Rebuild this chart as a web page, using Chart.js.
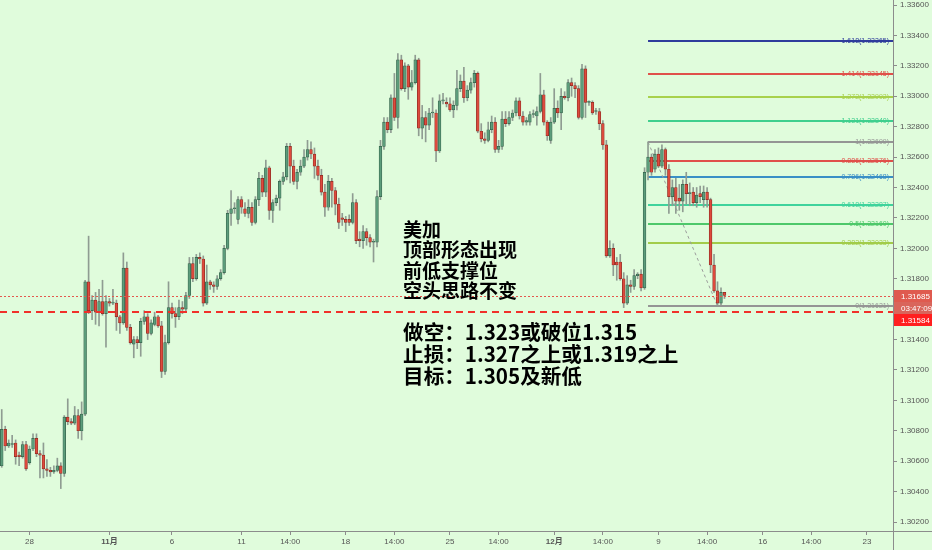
<!DOCTYPE html>
<html>
<head>
<meta charset="utf-8">
<script src="https://cdn.jsdelivr.net/npm/chart.js@4.4.1/dist/chart.umd.min.js"></script>
<style>
  html, body { margin: 0; padding: 0; background: #e0fcdc; }
  canvas { display: block; }
</style>
</head>
<body>
<canvas id="myChart" width="932" height="550"></canvas>
<script>
// 美加 4小时K线：开 / 高 / 低 / 收
var openP = [
  1.3057, 1.3081, 1.3070, 1.3071, 1.3072, 1.3064, 1.3063, 1.3071, 1.3059, 1.3068,
  1.3075, 1.3065, 1.3064, 1.3055, 1.3054, 1.3053, 1.3054, 1.3057, 1.3052, 1.3089,
  1.3086, 1.3085, 1.3090, 1.3080, 1.3091, 1.3178, 1.3159, 1.3166, 1.3158, 1.3165,
  1.3157, 1.3165, 1.3164, 1.3164, 1.3155, 1.3151, 1.3187, 1.3148, 1.3137, 1.3140,
  1.3138, 1.3152, 1.3155, 1.3144, 1.3150, 1.3155, 1.3149, 1.3119, 1.3138, 1.3161,
  1.3157, 1.3155, 1.3161, 1.3160, 1.3169, 1.3190, 1.3180, 1.3194, 1.3193, 1.3164,
  1.3178, 1.3176, 1.3175, 1.3180, 1.3184, 1.3200, 1.3223, 1.3226, 1.3219, 1.3232,
  1.3226, 1.3223, 1.3227, 1.3217, 1.3232, 1.3246, 1.3237, 1.3253, 1.3225, 1.3230,
  1.3233, 1.3244, 1.3247, 1.3267, 1.3254, 1.3244, 1.3250, 1.3254, 1.3260, 1.3265,
  1.3262, 1.3254, 1.3248, 1.3237, 1.3227, 1.3244, 1.3238, 1.3229, 1.3220, 1.3219,
  1.3219, 1.3217, 1.3230, 1.3206, 1.3205, 1.3211, 1.3207, 1.3204, 1.3204, 1.3234,
  1.3267, 1.3283, 1.3278, 1.3299, 1.3286, 1.3324, 1.3305, 1.3320, 1.3306, 1.3309,
  1.3324, 1.3279, 1.3286, 1.3281, 1.3289, 1.3289, 1.3264, 1.3297, 1.3296, 1.3295,
  1.3291, 1.3294, 1.3305, 1.3310, 1.3299, 1.3304, 1.3309, 1.3315, 1.3277, 1.3272,
  1.3271, 1.3278, 1.3283, 1.3265, 1.3267, 1.3285, 1.3282, 1.3286, 1.3289, 1.3297,
  1.3287, 1.3283, 1.3283, 1.3288, 1.3287, 1.3290, 1.3301, 1.3283, 1.3271, 1.3283,
  1.3292, 1.3289, 1.3300, 1.3299, 1.3309, 1.3307, 1.3305, 1.3286, 1.3318, 1.3296,
  1.3296, 1.3290, 1.3290, 1.3282, 1.3268, 1.3195, 1.3200, 1.3191, 1.3191, 1.3180,
  1.3164, 1.3176, 1.3175, 1.3182, 1.3183, 1.3174, 1.3250, 1.3260, 1.3252, 1.3262,
  1.3254, 1.3265, 1.3252, 1.3234, 1.3240, 1.3233, 1.3231, 1.3242, 1.3236, 1.3237,
  1.3230, 1.3236, 1.3232, 1.3237, 1.3232, 1.3189, 1.3172, 1.3164, 1.3171
];
var highP = [
  1.3094, 1.3083, 1.3074, 1.3077, 1.3074, 1.3066, 1.3073, 1.3073, 1.3070, 1.3078,
  1.3078, 1.3067, 1.3072, 1.3061, 1.3056, 1.3057, 1.3062, 1.3059, 1.3090, 1.3101,
  1.3088, 1.3096, 1.3094, 1.3099, 1.3179, 1.3208, 1.3169, 1.3171, 1.3173, 1.3179,
  1.3169, 1.3167, 1.3173, 1.3166, 1.3156, 1.3197, 1.3191, 1.3150, 1.3142, 1.3142,
  1.3154, 1.3159, 1.3157, 1.3153, 1.3158, 1.3156, 1.3152, 1.3143, 1.3178, 1.3164,
  1.3161, 1.3166, 1.3165, 1.3171, 1.3194, 1.3194, 1.3196, 1.3197, 1.3195, 1.3189,
  1.3179, 1.3178, 1.3182, 1.3186, 1.3202, 1.3225, 1.3238, 1.3230, 1.3234, 1.3234,
  1.3230, 1.3232, 1.3230, 1.3234, 1.3250, 1.3248, 1.3258, 1.3254, 1.3232, 1.3235,
  1.3245, 1.3250, 1.3269, 1.3269, 1.3258, 1.3252, 1.3258, 1.3265, 1.3271, 1.3270,
  1.3266, 1.3258, 1.3252, 1.3242, 1.3248, 1.3246, 1.3240, 1.3233, 1.3223, 1.3221,
  1.3222, 1.3236, 1.3232, 1.3211, 1.3215, 1.3213, 1.3209, 1.3206, 1.3238, 1.3271,
  1.3286, 1.3286, 1.3301, 1.3315, 1.3328, 1.3327, 1.3322, 1.3321, 1.3317, 1.3327,
  1.3325, 1.3294, 1.3290, 1.3292, 1.3299, 1.3291, 1.3301, 1.3302, 1.3299, 1.3299,
  1.3297, 1.3317, 1.3314, 1.3319, 1.3307, 1.3312, 1.3317, 1.3316, 1.3282, 1.3276,
  1.3283, 1.3287, 1.3286, 1.3271, 1.3290, 1.3290, 1.3290, 1.3291, 1.3299, 1.3299,
  1.3290, 1.3286, 1.3290, 1.3291, 1.3293, 1.3315, 1.3304, 1.3284, 1.3286, 1.3305,
  1.3297, 1.3305, 1.3303, 1.3311, 1.3312, 1.3309, 1.3307, 1.3321, 1.3320, 1.3297,
  1.3297, 1.3292, 1.3292, 1.3284, 1.3271, 1.3205, 1.3203, 1.3194, 1.3196, 1.3184,
  1.3182, 1.3179, 1.3186, 1.3184, 1.3186, 1.3253, 1.3270, 1.3262, 1.3265, 1.3266,
  1.3268, 1.3266, 1.3255, 1.3245, 1.3246, 1.3242, 1.3245, 1.3250, 1.3243, 1.3240,
  1.3240, 1.3241, 1.3241, 1.3240, 1.3233, 1.3196, 1.3178, 1.3174, 1.3171
];
var lowP = [
  1.3056, 1.3067, 1.3069, 1.3069, 1.3058, 1.3057, 1.3062, 1.3054, 1.3058, 1.3067,
  1.3063, 1.3049, 1.3049, 1.3050, 1.3050, 1.3052, 1.3053, 1.3042, 1.3050, 1.3084,
  1.3084, 1.3084, 1.3075, 1.3074, 1.3090, 1.3157, 1.3153, 1.3150, 1.3149, 1.3156,
  1.3135, 1.3162, 1.3163, 1.3146, 1.3144, 1.3150, 1.3146, 1.3137, 1.3128, 1.3134,
  1.3129, 1.3150, 1.3140, 1.3143, 1.3149, 1.3148, 1.3115, 1.3117, 1.3137, 1.3154,
  1.3148, 1.3153, 1.3157, 1.3159, 1.3167, 1.3178, 1.3179, 1.3190, 1.3162, 1.3163,
  1.3173, 1.3171, 1.3173, 1.3179, 1.3183, 1.3199, 1.3215, 1.3223, 1.3216, 1.3223,
  1.3221, 1.3220, 1.3215, 1.3216, 1.3228, 1.3234, 1.3234, 1.3219, 1.3217, 1.3228,
  1.3225, 1.3242, 1.3245, 1.3243, 1.3242, 1.3239, 1.3248, 1.3253, 1.3258, 1.3259,
  1.3246, 1.3245, 1.3235, 1.3221, 1.3225, 1.3227, 1.3222, 1.3213, 1.3215, 1.3211,
  1.3215, 1.3216, 1.3203, 1.3201, 1.3200, 1.3202, 1.3201, 1.3191, 1.3201, 1.3232,
  1.3265, 1.3276, 1.3276, 1.3284, 1.3279, 1.3304, 1.3303, 1.3298, 1.3304, 1.3308,
  1.3274, 1.3272, 1.3270, 1.3278, 1.3286, 1.3257, 1.3263, 1.3295, 1.3293, 1.3290,
  1.3286, 1.3291, 1.3303, 1.3296, 1.3297, 1.3302, 1.3306, 1.3276, 1.3270, 1.3269,
  1.3270, 1.3276, 1.3263, 1.3263, 1.3265, 1.3280, 1.3281, 1.3284, 1.3287, 1.3285,
  1.3281, 1.3281, 1.3281, 1.3286, 1.3281, 1.3289, 1.3281, 1.3271, 1.3269, 1.3282,
  1.3286, 1.3278, 1.3298, 1.3297, 1.3300, 1.3299, 1.3285, 1.3285, 1.3286, 1.3294,
  1.3288, 1.3288, 1.3278, 1.3265, 1.3194, 1.3194, 1.3182, 1.3179, 1.3179, 1.3161,
  1.3163, 1.3171, 1.3173, 1.3180, 1.3172, 1.3173, 1.3245, 1.3248, 1.3250, 1.3253,
  1.3253, 1.3248, 1.3223, 1.3228, 1.3223, 1.3225, 1.3224, 1.3229, 1.3228, 1.3228,
  1.3227, 1.3230, 1.3227, 1.3227, 1.3184, 1.3171, 1.3162, 1.3163, 1.3167
];
var closeP = [
  1.3081, 1.3070, 1.3072, 1.3071, 1.3063, 1.3063, 1.3071, 1.3055, 1.3068, 1.3075,
  1.3065, 1.3064, 1.3055, 1.3054, 1.3053, 1.3054, 1.3057, 1.3052, 1.3089, 1.3086,
  1.3085, 1.3090, 1.3080, 1.3091, 1.3178, 1.3159, 1.3166, 1.3158, 1.3165, 1.3157,
  1.3165, 1.3164, 1.3164, 1.3155, 1.3151, 1.3187, 1.3148, 1.3138, 1.3140, 1.3138,
  1.3152, 1.3155, 1.3144, 1.3151, 1.3155, 1.3149, 1.3119, 1.3138, 1.3161, 1.3157,
  1.3155, 1.3161, 1.3160, 1.3169, 1.3190, 1.3180, 1.3194, 1.3193, 1.3164, 1.3178,
  1.3176, 1.3175, 1.3180, 1.3184, 1.3200, 1.3223, 1.3226, 1.3226, 1.3232, 1.3227,
  1.3223, 1.3227, 1.3217, 1.3232, 1.3246, 1.3237, 1.3253, 1.3225, 1.3230, 1.3233,
  1.3244, 1.3247, 1.3267, 1.3254, 1.3244, 1.3250, 1.3254, 1.3260, 1.3265, 1.3262,
  1.3254, 1.3248, 1.3237, 1.3227, 1.3244, 1.3238, 1.3229, 1.3217, 1.3219, 1.3217,
  1.3217, 1.3230, 1.3205, 1.3205, 1.3211, 1.3207, 1.3204, 1.3204, 1.3234, 1.3267,
  1.3283, 1.3278, 1.3299, 1.3286, 1.3324, 1.3305, 1.3320, 1.3306, 1.3309, 1.3324,
  1.3279, 1.3286, 1.3281, 1.3289, 1.3289, 1.3264, 1.3297, 1.3297, 1.3295, 1.3291,
  1.3294, 1.3305, 1.3310, 1.3299, 1.3304, 1.3309, 1.3315, 1.3277, 1.3272, 1.3271,
  1.3278, 1.3283, 1.3265, 1.3267, 1.3285, 1.3282, 1.3286, 1.3289, 1.3297, 1.3287,
  1.3283, 1.3284, 1.3288, 1.3288, 1.3290, 1.3301, 1.3283, 1.3274, 1.3283, 1.3292,
  1.3289, 1.3300, 1.3299, 1.3309, 1.3307, 1.3305, 1.3286, 1.3318, 1.3296, 1.3296,
  1.3289, 1.3290, 1.3282, 1.3268, 1.3195, 1.3200, 1.3189, 1.3189, 1.3180, 1.3164,
  1.3176, 1.3175, 1.3182, 1.3183, 1.3174, 1.3250, 1.3260, 1.3250, 1.3262, 1.3254,
  1.3265, 1.3252, 1.3234, 1.3240, 1.3231, 1.3231, 1.3242, 1.3236, 1.3236, 1.3230,
  1.3235, 1.3234, 1.3237, 1.3232, 1.3189, 1.3172, 1.3164, 1.3171, 1.3169
];

// 时间轴：总格数（含右侧空白），以及有文字的格子
var slotCount = 257;
var timeTickIdx = [8, 31, 49, 69, 83, 99, 113, 129, 143, 159, 173, 189, 203, 219, 233, 249];
var timeTickText = ["28", "11月", "6", "11", "14:00", "18", "14:00", "25", "14:00", "12月", "14:00", "9", "14:00", "16", "14:00", "23"];

// 价格轴
var priceTicks = [1.302, 1.304, 1.306, 1.308, 1.310, 1.312, 1.314, 1.318, 1.320, 1.322, 1.324, 1.326, 1.328, 1.330, 1.332, 1.334, 1.336];
var priceMin = 1.30141;
var priceMax = 1.33633;

// 斐波那契
var fibRatio = ["1.618", "1.414", "1.272", "1.131", "1", "0.886", "0.786", "0.618", "0.5", "0.382", "0"];
var fibPrice = [1.33365, 1.33145, 1.32992, 1.32840, 1.32699, 1.32576, 1.32468, 1.32287, 1.32160, 1.32033, 1.31621];
var fibFrom = 186;
var fibTo = 206;

var lastPrice = 1.31685;
var bidPrice = 1.31584;
var countdown = "03:47:09";

var noteA = ["美加", "顶部形态出现", "前低支撑位", "空头思路不变"];
var noteB = ["做空：1.323或破位1.315", "止损：1.327之上或1.319之上", "目标：1.305及新低"];

var fibColors = ["#2f3c9c", "#e0504a", "#a8d14c", "#3fcf8e", "#959595", "#e0504a", "#3a8fc6", "#3fd39c", "#4ec86a", "#a2cc4a", "#959595"];
var axisFont = "'Liberation Sans', 'Noto Sans CJK SC', sans-serif";

var labels = [];
for (var i = 0; i < slotCount; i++) labels.push(String(i));

var bodies = [], wicks = [], bodyFill = [], bodyLine = [];
for (var k = 0; k < openP.length; k++) {
  var up = closeP[k] >= openP[k];
  bodies.push([openP[k], closeP[k]]);
  wicks.push([lowP[k], highP[k]]);
  bodyFill.push(up ? "#5c9d7b" : "#de4a3d");
  bodyLine.push(up ? "#35624b" : "#8c2b22");
}

var overlay = {
  id: "overlay",
  beforeDatasetsDraw: function (chart) {
    var ctx = chart.ctx, x = chart.scales.x, y = chart.scales.y, area = chart.chartArea;
    var x0 = x.getPixelForValue(fibFrom);
    ctx.save();
    ctx.lineWidth = 2;
    for (var i = 0; i < fibPrice.length; i++) {
      var py = Math.round(y.getPixelForValue(fibPrice[i]));
      ctx.strokeStyle = fibColors[i];
      ctx.beginPath();
      ctx.moveTo(x0, py);
      ctx.lineTo(area.right, py);
      ctx.stroke();
    }
    // 趋势线
    ctx.lineWidth = 1;
    ctx.setLineDash([3, 3]);
    ctx.strokeStyle = "#9b9b9b";
    ctx.beginPath();
    ctx.moveTo(x0, y.getPixelForValue(fibPrice[4]));
    ctx.lineTo(x.getPixelForValue(fibTo), y.getPixelForValue(fibPrice[10]));
    ctx.stroke();
    ctx.restore();
  },
  afterDatasetsDraw: function (chart) {
    var ctx = chart.ctx, x = chart.scales.x, y = chart.scales.y, area = chart.chartArea;
    ctx.save();
    // 斐波那契文字
    ctx.font = "7px " + axisFont;
    ctx.textAlign = "right";
    ctx.textBaseline = "middle";
    for (var i = 0; i < fibPrice.length; i++) {
      var py = Math.round(y.getPixelForValue(fibPrice[i]));
      ctx.fillStyle = fibColors[i];
      ctx.fillText(fibRatio[i] + "(" + fibPrice[i].toFixed(5) + ")", area.right - 4, py);
    }
    // 现价线
    var yl = Math.round(y.getPixelForValue(lastPrice)) + 0.5;
    ctx.strokeStyle = "#e4584e";
    ctx.lineWidth = 1;
    ctx.setLineDash([2, 2]);
    ctx.beginPath(); ctx.moveTo(area.left, yl); ctx.lineTo(area.right, yl); ctx.stroke();
    var yb = Math.round(y.getPixelForValue(bidPrice));
    ctx.strokeStyle = "#f0302a";
    ctx.lineWidth = 2;
    ctx.setLineDash([7, 5]);
    ctx.beginPath(); ctx.moveTo(area.left, yb); ctx.lineTo(area.right, yb); ctx.stroke();
    ctx.setLineDash([]);

    // 文字
    ctx.fillStyle = "#000";
    ctx.textAlign = "left";
    var tx = x.getPixelForValue(115.5);
    var ya = y.getPixelForValue(1.32124);
    ctx.font = "bold 19px 'Noto Sans CJK SC'";
    noteA.forEach(function (t, n) { ctx.fillText(t, tx, ya + n * 20.5); });
    var yb2 = y.getPixelForValue(1.31446);
    ctx.font = "bold 20.6px 'Noto Sans CJK SC'";
    noteB.forEach(function (t, n) { ctx.fillText(t, tx, yb2 + n * 21.8); });
    ctx.restore();
  },
  afterDraw: function (chart) {
    var ctx = chart.ctx, y = chart.scales.y, area = chart.chartArea;
    var W = chart.width, H = chart.height;
    ctx.save();
    ctx.strokeStyle = "#8c8c8c";
    ctx.lineWidth = 1;
    ctx.beginPath();
    ctx.moveTo(area.right + 0.5, area.bottom); ctx.lineTo(area.right + 0.5, H);
    ctx.moveTo(area.right, area.bottom + 0.5); ctx.lineTo(W, area.bottom + 0.5);
    ctx.stroke();

    function tag(text, cy, bg) {
      ctx.fillStyle = bg;
      ctx.fillRect(area.right + 1, cy - 6, W - area.right - 1, 12);
      ctx.fillStyle = "#fff";
      ctx.font = "8px " + axisFont;
      ctx.textAlign = "left";
      ctx.textBaseline = "middle";
      ctx.fillText(text, area.right + 8, cy + 0.5);
    }
    var c1 = Math.round(y.getPixelForValue(lastPrice));
    tag(lastPrice.toFixed(5), c1, "#df5a4f");
    tag(countdown, c1 + 12, "#d9655b");
    tag(bidPrice.toFixed(5), c1 + 24, "#ff1f1f");
    ctx.restore();
  }
};

var ctx = document.getElementById("myChart").getContext("2d");
var chart = new Chart(ctx, {
  type: "bar",
  data: {
    labels: labels,
    datasets: [
      {
        data: bodies,
        backgroundColor: bodyFill,
        borderColor: bodyLine,
        borderWidth: 0.7,
        borderSkipped: false,
        barThickness: 2.8,
        minBarLength: 1,
        grouped: false,
        order: 0
      },
      {
        data: wicks,
        backgroundColor: "#8f9c92",
        barThickness: 1,
        grouped: false,
        order: 1
      }
    ]
  },
  options: {
    responsive: false,
    animation: false,
    layout: { padding: 0 },
    plugins: { legend: { display: false }, tooltip: { enabled: false } },
    scales: {
      x: {
        offset: true,
        grid: { display: true, drawOnChartArea: false, tickLength: 4, color: "#8c8c8c", offset: false },
        border: { display: true, color: "#8c8c8c" },
        ticks: {
          autoSkip: false,
          maxRotation: 0,
          padding: 2,
          color: "#555",
          font: function (c) {
            var t = timeTickText[c.index] || "";
            return { family: axisFont, size: 8, weight: t.indexOf("月") >= 0 ? "bold" : "normal" };
          },
          callback: function (v, i) { return timeTickText[i]; }
        },
        afterBuildTicks: function (s) {
          s.ticks = timeTickIdx.map(function (v) { return { value: v }; });
        },
        afterFit: function (s) {
          s.height = 19;
          s.paddingLeft = 0;
          s.paddingRight = 0;
        }
      },
      y: {
        position: "right",
        min: priceMin,
        max: priceMax,
        grid: { display: true, drawOnChartArea: false, tickLength: 4, color: "#8c8c8c" },
        border: { display: true, color: "#8c8c8c" },
        ticks: {
          padding: 3,
          color: "#555",
          font: { family: axisFont, size: 8 },
          callback: function (v) { return Number(v).toFixed(5); }
        },
        afterBuildTicks: function (s) {
          s.ticks = priceTicks.map(function (v) { return { value: v }; });
        },
        afterFit: function (s) {
          s.width = 39;
          s.paddingTop = 0;
          s.paddingBottom = 0;
        }
      }
    }
  },
  plugins: [overlay]
});
</script>
</body>
</html>
